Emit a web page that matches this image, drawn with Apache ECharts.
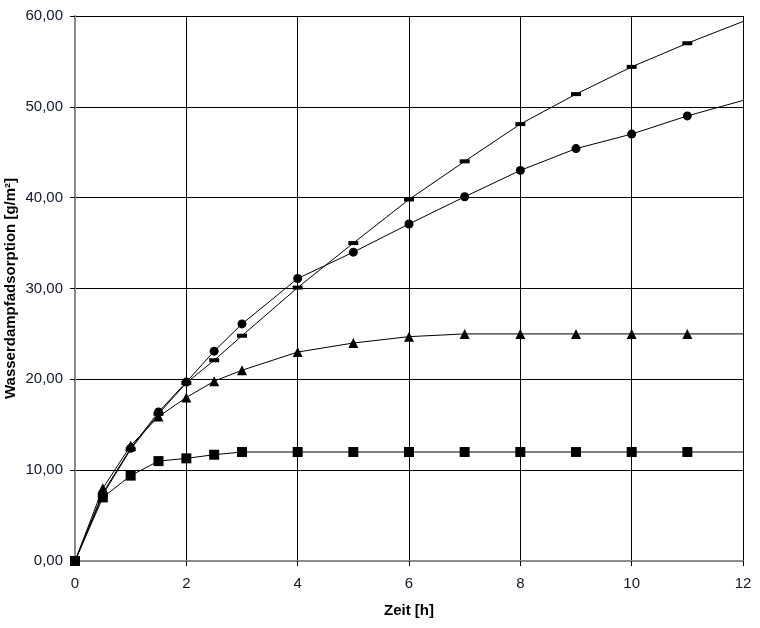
<!DOCTYPE html>
<html><head><meta charset="utf-8">
<script src="https://cdn.jsdelivr.net/npm/echarts@6/dist/echarts.min.js"></script>
<style>html,body{margin:0;padding:0;background:#fff}#c{width:760px;height:628px}</style>
</head><body><div id="c"></div>
<script>
const times = [0,0.5,1,1.5,2,2.5,3,4,5,6,7,8,9,10,11,12];
const dashValues = [0,7.3,12.3,16.2,19.6,22.1,24.8,30.1,35.0,39.8,44.0,48.1,51.4,54.4,57.0,59.4];
const circleValues = [0,7.5,12.4,16.4,19.7,23.1,26.1,31.1,34.0,37.1,40.1,43.0,45.4,47.0,49.0,50.7];
const triangleValues = [0,8.0,12.7,15.9,18.0,19.8,21.0,23.0,24.0,24.7,25.0,25.0,25.0,25.0,25.0,25.0];
const squareValues = [0,7.0,9.4,11.0,11.3,11.7,12.0,12.0,12.0,12.0,12.0,12.0,12.0,12.0,12.0,12.0];
const xTicks = [0,2,4,6,8,10,12];
const yTicks = [0,10,20,30,40,50,60];

function mk(vals){
  return vals.map((v,i)=> i===vals.length-1 ? {value:[times[i],v], symbol:'none'} : [times[i],v]);
}
const font = '"Liberation Sans", Arial, sans-serif';
const chart = echarts.init(document.getElementById('c'));
const base = {type:'line', lineStyle:{color:'#000',width:1}, itemStyle:{color:'#000'}, showAllSymbol:true, animation:false, z:3};
chart.setOption({
  animation:false,
  grid:{left:75,right:17,top:16,bottom:67,containLabel:false,outerBoundsMode:'none'},
  xAxis:[{
    type:'value', min:xTicks[0], max:xTicks[xTicks.length-1], interval:2,
    name:'Zeit [h]', nameLocation:'middle', nameGap:42, nameMoveOverlap:false,
    nameTextStyle:{fontFamily:font,fontSize:15,fontWeight:'bold',color:'#000'},
    axisLine:{lineStyle:{color:'#000',width:1}},
    axisTick:{show:true,length:5,lineStyle:{color:'#000'}},
    axisLabel:{fontFamily:font,fontSize:15,color:'#101828',margin:15},
    splitLine:{show:true,lineStyle:{color:'#000',width:1}}
  },{
    type:'value', position:'top', min:0, max:12,
    axisLine:{show:true,lineStyle:{color:'#8c8c8c',width:2}},
    axisTick:{show:false}, axisLabel:{show:false}, splitLine:{show:false}
  }],
  yAxis:[{
    type:'value', min:yTicks[0], max:yTicks[yTicks.length-1], interval:10,
    name:'Wasserdampfadsorption [g/m²]', nameLocation:'middle', nameGap:57, nameMoveOverlap:false,
    nameTextStyle:{fontFamily:font,fontSize:15,fontWeight:'bold',color:'#000'},
    axisLine:{show:true,lineStyle:{color:'#000',width:1}},
    axisTick:{show:true,length:5,lineStyle:{color:'#000'}},
    axisLabel:{fontFamily:font,fontSize:15,color:'#101828',margin:12,
      formatter:v=>v.toFixed(2).replace('.',',')},
    splitLine:{show:true,lineStyle:{color:'#000',width:1}}
  },{
    type:'value', position:'right', min:0, max:60,
    axisLine:{show:true,lineStyle:{color:'#8c8c8c',width:2}},
    axisTick:{show:false}, axisLabel:{show:false}, splitLine:{show:false}
  }],
  series:[
    Object.assign({}, base, {name:'A', data:mk(dashValues), symbol:'rect', symbolSize:[10,4]}),
    Object.assign({}, base, {name:'B', data:mk(circleValues), symbol:'circle', symbolSize:9}),
    Object.assign({}, base, {name:'C', data:mk(triangleValues), symbol:'triangle', symbolSize:10}),
    Object.assign({}, base, {name:'D', data:mk(squareValues), symbol:'rect', symbolSize:10})
  ]
});
</script></body></html>
